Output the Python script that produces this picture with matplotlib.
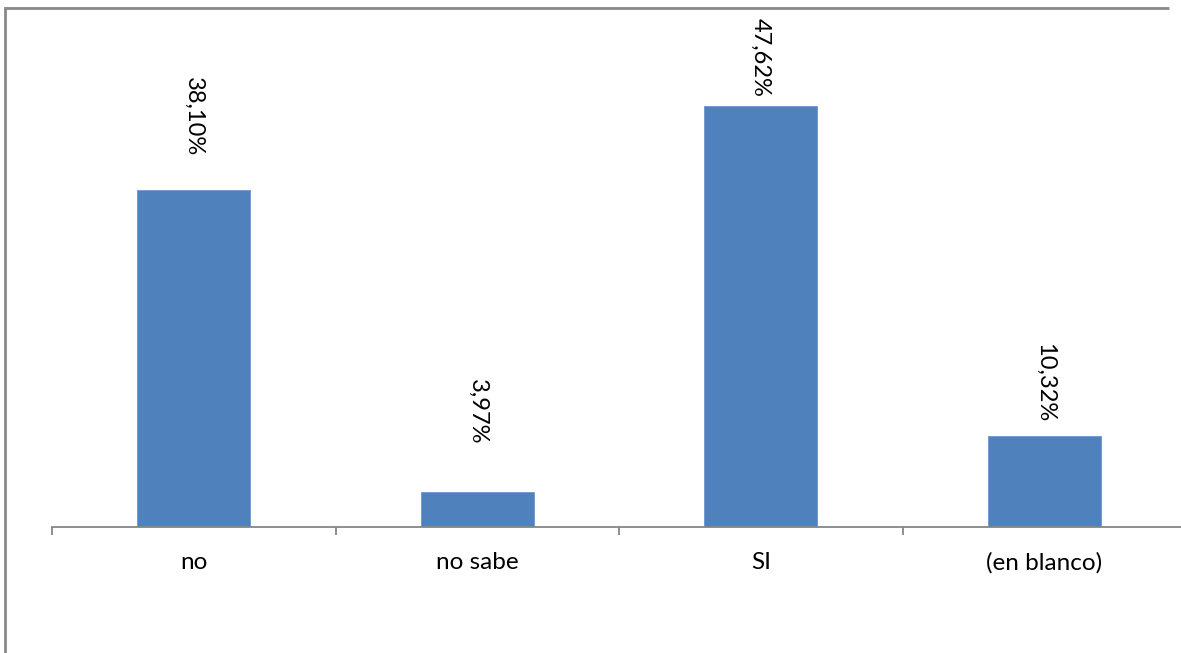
import matplotlib
matplotlib.use("Agg")
import matplotlib.pyplot as plt
from matplotlib.lines import Line2D
from matplotlib.transforms import offset_copy

# Datos
categorias = ["no", "no sabe", "SI", "(en blanco)"]
porcentajes = [38.10, 3.97, 47.62, 10.32]
etiquetas = ["38,10%", "3,97%", "47,62%", "10,32%"]

# separación (px) entre la barra y su etiqueta, como en el original
sep_etiqueta = [34, 47, 9, 14]

W, H = 1181, 653
fig = plt.figure(figsize=(W / 100, H / 100), dpi=100)
plt.rcParams['font.family'] = ['Lato', 'DejaVu Sans']

# marco gris del gráfico: solo se ven el borde superior y el izquierdo
y_marco = (H - 8) / H
x_marco = 5 / W
fig.add_artist(Line2D([x_marco, 0.99], [y_marco, y_marco], transform=fig.transFigure,
                      color='#898989', linewidth=2, solid_capstyle='butt'))
fig.add_artist(Line2D([x_marco, x_marco], [0.0, y_marco], transform=fig.transFigure,
                      color='#898989', linewidth=2, solid_capstyle='projecting'))

eje_y = 527
ax = fig.add_axes([52 / W, (H - eje_y) / H, 1134 / W, (eje_y - 10) / H])
x = list(range(len(categorias)))
ax.bar(x, porcentajes, width=0.4, color='#4F81BD', edgecolor='#6E97CC', linewidth=0.6)
ax.set_xlim(-0.5, len(categorias) - 0.5)
ax.set_ylim(0, (eje_y - 10) / 8.84)

for xi, v, txt, s in zip(x, porcentajes, etiquetas, sep_etiqueta):
    tr = offset_copy(ax.transData, fig=fig, x=0, y=s * 0.72, units='points')
    ax.text(xi, v, txt, rotation=-90, ha='center', va='bottom', fontsize=17,
            color='black', transform=tr)

for lado in ['left', 'right', 'top']:
    ax.spines[lado].set_visible(False)
ax.spines['bottom'].set_color('#868686')
ax.spines['bottom'].set_linewidth(1.3)
ax.set_yticks([])
ax.set_xticks([i - 0.5 for i in range(len(categorias) + 1)])
ax.set_xticklabels([])
ax.set_xticks(x, minor=True)
ax.set_xticklabels(categorias, minor=True, fontsize=17.5)
ax.tick_params(axis='x', which='major', length=6, width=1.3, color='#868686')
ax.tick_params(axis='x', which='minor', length=0, pad=18)

fig.savefig("out.png", dpi=100)
